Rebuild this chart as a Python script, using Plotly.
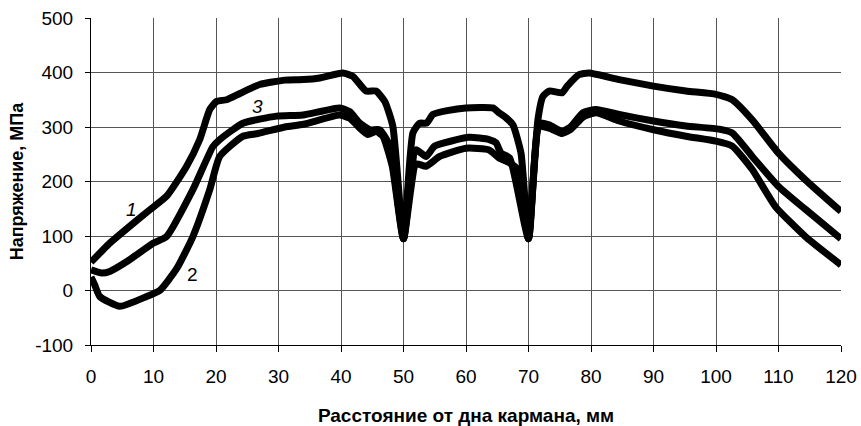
import plotly.graph_objects as go

# Curve 1 (top)
x1 = [0, 1.7, 3, 6.2, 9.4, 12.1, 15.3, 17.4, 19, 20.1, 21.7, 23.9, 27, 31, 34, 36.6, 40.3, 41.9, 44, 45.6, 47, 48.3, 50,
      51.5, 52.6, 53.7, 54.7, 57, 60, 64.3, 65.3, 66.4, 67.5, 68.8, 70,
      71.5, 72.3, 73.3, 75.4, 76.2, 78.1, 79.7, 84.5, 90, 95.2, 100, 102.6, 105.8, 110, 114.3, 120]
y1 = [52, 72, 87, 118, 148, 173, 228, 277, 332, 347, 350, 362, 378, 386, 387, 390, 399, 393, 366, 366, 347, 301, 95,
      289, 307, 307, 323, 330, 335, 335, 326, 317, 304, 252, 95,
      313, 356, 366, 363, 375, 396, 399, 387, 375, 366, 360, 350, 313, 252, 203, 145]

# Curve 3 (middle)
x3 = [0, 1.7, 3, 6, 10, 12.1, 16.3, 19.5, 20.6, 24.3, 29.7, 33.9, 39.8, 41.4, 43, 44.6, 46.2, 47.8, 50,
      52, 53.6, 55, 60.5, 63.7, 64.8, 65.6, 67, 70,
      71.7, 73.3, 75.4, 76.8, 78.7, 80.8, 84.5, 90, 95.2, 100.5, 102.6, 105.8, 110, 114.3, 120]
y3 = [38, 32, 35, 55, 87, 99, 185, 264, 277, 307, 320, 322, 335, 328, 307, 295, 295, 265, 95,
      258, 246, 265, 281, 277, 271, 252, 243, 95,
      307, 304, 292, 301, 326, 332, 323, 311, 302, 296, 289, 246, 191, 149, 95]

# Curve 2 (bottom)
x2 = [0, 0.6, 1.4, 4.6, 8.9, 11, 13.7, 16.3, 19, 20.6, 24.3, 26.7, 31, 34, 39.8, 41.4, 43, 44.3, 45.6,
      46.7, 48.2, 50, 52, 53.6, 55.8, 60, 63.7, 65.3, 67, 68.3, 70,
      71.7, 73.3, 75.4, 76.8, 78.7, 80.8, 84.5, 90, 95.2, 100, 102.6, 105.8, 109.5, 114.3, 120]
y2 = [25, 10, -11, -29, -11, 0, 40, 99, 185, 246, 283, 288, 300, 305, 322, 316, 298, 286, 292,
      283, 228, 95, 232, 228, 246, 261, 258, 243, 234, 222, 95,
      300, 298, 288, 296, 318, 326, 311, 295, 283, 274, 265, 222, 154, 99, 47]

curve_labels = ["1", "3", "2"]
label_x = [6.5, 26.7, 16.3]
label_y = [148, 338, 29]

x_ticks = list(range(0, 121, 10))
y_ticks = list(range(-100, 501, 100))
y_tick_text = ["-100", "0", "100", "200", "300", "400", "500"]

fig = go.Figure()
for xs, ys in [(x1, y1), (x3, y3), (x2, y2)]:
    fig.add_trace(go.Scatter(x=xs, y=ys, mode="lines",
                             line=dict(color="black", width=7, shape="spline", smoothing=0.5),
                             showlegend=False, hoverinfo="skip"))

for t, lx, ly in zip(curve_labels, label_x, label_y):
    fig.add_annotation(x=lx, y=ly, text=f"<i>{t}</i>" if t != "2" else t, showarrow=False,
                       font=dict(family="Liberation Sans, Arial", size=19, color="black"))

fig.update_layout(
    width=861, height=426,
    margin=dict(l=91, r=20, t=18, b=81),
    paper_bgcolor="white", plot_bgcolor="white",
    font=dict(family="Liberation Sans, Arial", size=18, color="black"),
    xaxis=dict(range=[0, 120], tickvals=x_ticks, ticks="outside", ticklen=6, tickcolor="black",
               tickfont=dict(size=19), ticklabelstandoff=8, automargin=False,
               showline=True, linecolor="black", linewidth=1,
               showgrid=True, gridcolor="#555", gridwidth=1, zeroline=False,
               title=dict(text="<b>Расстояние от дна кармана, мм</b>", font=dict(size=19), standoff=22)),
    yaxis=dict(range=[-100, 500], tickvals=y_ticks, ticktext=y_tick_text, ticks="outside", ticklen=5,
               tickcolor="black", tickfont=dict(size=19), ticklabelstandoff=8, automargin=False,
               showline=True, linecolor="black", linewidth=1,
               showgrid=True, gridcolor="#555", gridwidth=1, zeroline=False,
               title=dict(text="<b>Напряжение, МПа</b>", font=dict(size=18), standoff=6)),
)

fig.write_html("out.html")
